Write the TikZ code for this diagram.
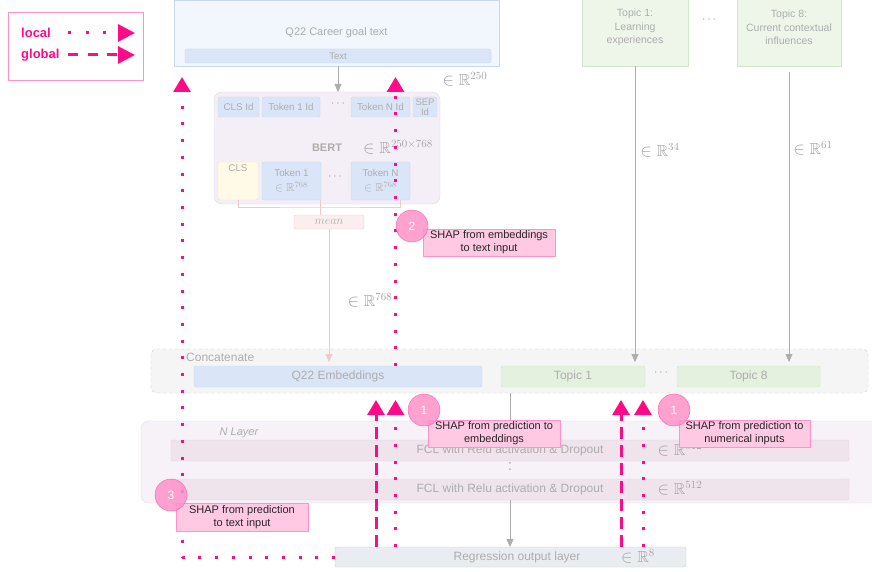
\documentclass[tikz,border=0pt]{standalone}
\usepackage[no-math]{fontspec}
\setmainfont{Liberation Sans}
\usepackage{amssymb}
\usetikzlibrary{arrows.meta}

\definecolor{shap}{HTML}{FF0A87}
\definecolor{txtgray}{HTML}{ADADAD}
\definecolor{mathgray}{HTML}{A3A3A3}
\definecolor{bluefill}{HTML}{DAE6F7}
\definecolor{blueln}{HTML}{C8D8EE}
\definecolor{paleblue}{HTML}{F2F6FD}
\definecolor{greenfill}{HTML}{E4F1DE}
\definecolor{greenln}{HTML}{D0E6C8}
\definecolor{palegreen}{HTML}{EEF6EA}
\definecolor{bertfill}{HTML}{F4EFF6}
\definecolor{bertln}{HTML}{E3D8E8}
\definecolor{clsfill}{HTML}{FFF9E8}
\definecolor{clsln}{HTML}{F3E4B8}
\definecolor{meanfill}{HTML}{FBEEEE}
\definecolor{meanln}{HTML}{EFCACA}
\definecolor{fclfill}{HTML}{EFE3EC}
\definecolor{fclln}{HTML}{E4D3DF}
\definecolor{regfill}{HTML}{E9EDF1}
\definecolor{regln}{HTML}{C9D1D9}
\definecolor{badgefill}{HTML}{FF92C8}
\definecolor{badgeln}{HTML}{FF5AAE}
\definecolor{labfill}{HTML}{FFC9E4}
\definecolor{labln}{HTML}{FF93C9}

\begin{document}
\begin{tikzpicture}[x=1pt,y=-1pt,font=\fontsize{11}{13}\selectfont, line join=round,
	box/.style={draw, inner sep=0pt, outer sep=0pt, text=txtgray, align=center, rounded corners=2pt},
	bluebox/.style={box, draw=blueln, fill=bluefill},
	greenbox/.style={box, draw=greenln, fill=greenfill, font=\fontsize{12}{14}\selectfont},
	fclbox/.style={box, draw=fclln, fill=fclfill, minimum width=678pt, minimum height=21pt, font=\fontsize{12}{14}\selectfont},
	tokfont/.style={font=\fontsize{9.8}{12.5}\selectfont},
	dim/.style={text=mathgray, inner sep=0pt, font=\fontsize{16}{18}\selectfont},
	dotsn/.style={text=txtgray!90!black, inner sep=0pt, font=\fontsize{12}{14}\selectfont},
	garrow/.style={draw=txtgray, -{Triangle[width=7pt,length=8pt]}},
	loc/.style={shap, line width=3pt, line cap=butt, dash pattern=on 3pt off 13.7pt, -{Triangle[width=17pt,length=15pt]}},
	glob/.style={shap, line width=3pt, line cap=butt, dash pattern=on 12pt off 6pt, -{Triangle[width=17pt,length=15pt]}},
	badge/.style={circle, minimum size=32pt, inner sep=0pt, draw=badgeln, fill=badgefill, fill opacity=0.85, text opacity=1, text=white, font=\fontsize{12}{14}\selectfont},
	shaplab/.style={draw=labln, fill=labfill, minimum width=132pt, minimum height=27pt, inner sep=0pt, align=center, text=black!85}]
	\useasboundingbox (0,0) rectangle (872,572);
	\fill[white] (0,0) rectangle (872,572);
	% legend
	\node[draw=labln, line width=0.8pt, minimum width=135pt, minimum height=68pt, inner sep=0pt] (legend) at (75.5,46) {};
	\node[anchor=west, text=shap, inner sep=0pt, font=\fontsize{13}{15}\selectfont\bfseries] (loctxt) at (21,33) {local};
	\node[anchor=west, text=shap, inner sep=0pt, font=\fontsize{13}{15}\selectfont\bfseries] (globtxt) at (21,55) {global};
	\coordinate (locA) at (68,33); \coordinate (locB) at (135,33);
	\coordinate (globA) at (68,55); \coordinate (globB) at (135,55);
	\draw[loc, dash pattern=on 3pt off 14.5pt, -{Triangle[width=17pt,length=17pt]}] (locA) -- (locB);
	\draw[glob, dash pattern=on 10pt off 9.5pt, -{Triangle[width=17pt,length=17pt]}] (globA) -- (globB);
	% text input
	\node[box, draw=blueln, fill=paleblue, rounded corners=0pt, minimum width=325pt, minimum height=66pt] (q22txt) at (336.5,33) {Q22 Career goal text};
	\node[bluebox, minimum width=306pt, minimum height=14pt, font=\fontsize{9.5}{11}\selectfont] (txtbar) at (338,56) {Text};
	\node[dim] (r250) at (465,79) {$\in\mathbb{R}^{250}$};
	% BERT
	\node[box, draw=bertln, fill=bertfill, rounded corners=8pt, minimum width=226pt, minimum height=112pt] (bert) at (327,148) {};
	\node[bluebox, tokfont, minimum width=41pt, minimum height=20pt] (clsid) at (238.5,107) {CLS Id};
	\node[bluebox, tokfont, minimum width=58pt, minimum height=20pt] (tok1id) at (291,107) {Token 1 Id};
	\node[dotsn] (dotsA) at (338,104) {$\cdots$};
	\node[bluebox, tokfont, minimum width=59pt, minimum height=20pt] (tokNid) at (380.5,107) {Token N Id};
	\node[bluebox, font=\fontsize{9.5}{10}\selectfont, minimum width=24pt, minimum height=20pt] (sepid) at (425,107) {SEP\\Id};
	\node[text=txtgray, inner sep=0pt, font=\fontsize{11}{13}\selectfont\bfseries] (berttxt) at (327,148) {BERT};
	\node[dim] (r250x768) at (398,147) {$\in\mathbb{R}^{250\times 768}$};
	\node[box, draw=clsln, fill=clsfill, tokfont, minimum width=40pt, minimum height=38pt] (cls) at (238,181) {CLS\\[14pt]};
	\node[bluebox, tokfont, minimum width=59pt, minimum height=38pt] (tok1) at (291.5,181) {Token 1\\[2.5pt]{\fontsize{11.5}{13}\selectfont$\in\mathbb{R}^{768}$}};
	\node[dotsn] (dotsB) at (335,177) {$\cdots$};
	\node[bluebox, tokfont, minimum width=59pt, minimum height=38pt] (tokN) at (380.5,181) {Token N\\[2.5pt]{\fontsize{11.5}{13}\selectfont$\in\mathbb{R}^{768}$}};
	% mean pooling
	\node[box, draw=meanln, fill=meanfill, minimum width=70pt, minimum height=14pt, font=\fontsize{12.5}{14}\selectfont] (mean) at (329,222) {$mean$};
	\coordinate (brk) at (320,207);
	\draw[meanln] (cls.south) |- (brk) -| ([xshift=19.5pt]tokN.south);
	\draw[meanln] (tok1.south -| brk) -- (mean.north -| brk);
	\node[dim] (r768) at (370,300) {$\in\mathbb{R}^{768}$};
	% topics
	\node[box, draw=greenln, fill=palegreen, rounded corners=0pt, minimum width=106pt, minimum height=77pt, font=\fontsize{10.5}{13.5}\selectfont] (t1top) at (635,27.5) {Topic 1:\\Learning\\experiences};
	\node[dotsn] (dotsC) at (709,20) {$\cdots$};
	\node[box, draw=greenln, fill=palegreen, rounded corners=0pt, minimum width=104pt, minimum height=77pt, font=\fontsize{10.5}{13.5}\selectfont] (t8top) at (789,27.5) {Topic 8:\\Current contextual\\influences};
	\node[dim] (r34) at (660,150) {$\in\mathbb{R}^{34}$};
	\node[dim] (r61) at (813,148) {$\in\mathbb{R}^{61}$};
	% concatenation
	\node[box, draw=black!22, fill=black!4, dashed, rounded corners=6pt, minimum width=717pt, minimum height=44pt] (concat) at (509.5,371) {};
	\node[anchor=west, text=txtgray, inner sep=0pt, font=\fontsize{12}{14}\selectfont] (concattxt) at (186,357) {Concatenate};
	\node[bluebox, font=\fontsize{12}{14}\selectfont, minimum width=288pt, minimum height=21pt] (q22emb) at (338,376.5) {Q22 Embeddings};
	\node[greenbox, minimum width=144pt, minimum height=21pt] (topic1) at (573,376.5) {Topic 1};
	\node[dotsn] (dotsD) at (661,373) {$\cdots$};
	\node[greenbox, minimum width=143pt, minimum height=21pt] (topic8) at (748.5,376.5) {Topic 8};
	\draw[garrow] (q22txt.south -| txtbar) -- (bert.north -| txtbar);
	\draw[draw=meanln, -{Triangle[width=7pt,length=8pt]}] (mean.south) -- ([yshift=4pt]q22emb.north -| mean);
	\draw[garrow] (t1top.south) -- ([yshift=4pt]topic1.north -| t1top);
	\draw[garrow] ([yshift=-6pt]t8top.south) -- ([yshift=4pt]topic8.north -| t8top);
	% dense layers
	\node[box, draw=bertln, fill=bertfill!80, rounded corners=8pt, minimum width=739pt, minimum height=82pt] (nlayer) at (510.5,462) {};
	\node[text=txtgray, inner sep=0pt, font=\fontsize{11}{13}\selectfont\itshape] (nlayertxt) at (239,433) {N Layer};
	\node[fclbox] (fcl1) at (510,450.5) {FCL with Relu activation \& Dropout};
	\node[fclbox] (fcl2) at (510,489.5) {FCL with Relu activation \& Dropout};
	\node[dim] (r512a) at (680,449) {$\in\mathbb{R}^{512}$};
	\node[dim] (r512b) at (680,488) {$\in\mathbb{R}^{512}$};
	\node[text=txtgray, inner sep=0pt, font=\fontsize{15}{15}\selectfont] (vd) at (510,467) {:};
	\node[box, draw=regln, fill=regfill, minimum width=351pt, minimum height=20pt] (reg) at (510.5,557) {};
	\node[text=txtgray, inner sep=0pt, font=\fontsize{12}{14}\selectfont] (regtxt) at (517,557) {Regression output layer};
	\node[dim] (r8) at (638,556) {$\in\mathbb{R}^{8}$};
	\draw[draw=txtgray] (concat.south -| fcl1) -- (nlayer.north -| fcl1);
	\draw[garrow] (fcl2.south) -- (reg.north -| fcl2);
	% SHAP paths
	\coordinate (tipA) at (182,77);
	\coordinate (tipB) at (395.5,77);
	\coordinate (tipC) at (395.5,400);
	\coordinate (tipD) at (376,400);
	\coordinate (tipE) at (621,400);
	\coordinate (tipF) at (643,400);
	\draw[loc] (reg.west) -| (tipA);
	\draw[loc] (q22emb.north -| tipB) -- (tipB);
	\draw[loc] (reg.north -| tipC) -- (tipC);
	\draw[glob] (reg.north -| tipD) -- (tipD);
	\draw[glob] (reg.north -| tipE) -- (tipE);
	\draw[loc] (reg.north -| tipF) -- (tipF);
	% SHAP labels
	\node[shaplab] (lab2) at (489,242.5) {SHAP from embeddings\\to text input};
	\node[badge] (b2) at (412,226) {2};
	\node[shaplab] (lab1a) at (494,433.5) {SHAP from prediction to\\embeddings};
	\node[badge] (b1a) at (424,410) {1};
	\node[shaplab, minimum width=131pt] (lab1b) at (744.5,433.5) {SHAP from prediction to\\numerical inputs};
	\node[badge] (b1b) at (674,410) {1};
	\node[shaplab, minimum height=28pt] (lab3) at (242,517) {SHAP from prediction\\to text input};
	\node[badge] (b3) at (171,495) {3};
\end{tikzpicture}
\end{document}
